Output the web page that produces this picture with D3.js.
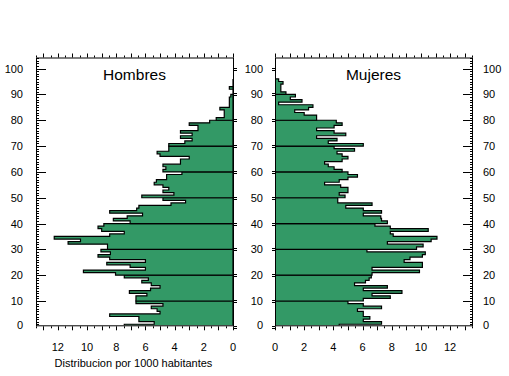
<!DOCTYPE html>
<html>
<head>
<meta charset="utf-8">
<script src="https://cdn.jsdelivr.net/npm/d3@7"></script>
<style>
body { margin: 0; background: #fff; }
text { font-family: Arial, "Liberation Sans", sans-serif; fill: #000; }
</style>
</head>
<body>
<div id="chart"></div>
<script>
var width = 509, height = 376;

// rate per 1000 inhabitants, by single year of age (index = age)
var hombres = [7.45, 5.4, 6.45, 6.45, 8.45, 5.0, 5.2, 5.6, 4.8, 6.65,
    6.65, 6.65, 5.9, 7.1, 5.65, 5.0, 5.6, 6.25, 5.8, 7.45,
    8.05, 10.25, 6.0, 7.05, 8.65, 6.0, 8.45, 9.25, 8.4, 9.05,
    8.6, 8.6, 11.3, 10.45, 12.25, 8.45, 7.45, 9.0, 9.25, 8.85,
    7.05, 8.2, 7.25, 6.2, 8.45, 6.6, 6.45, 4.25, 3.25, 4.8,
    6.25, 4.05, 4.8, 4.4, 4.8, 5.4, 5.25, 4.55, 4.55, 3.5,
    4.8, 4.6, 4.8, 3.6, 3.6, 3.0, 5.0, 5.2, 4.4, 4.4,
    4.4, 3.3, 2.8, 3.6, 2.8, 3.6, 2.4, 2.4, 3.0, 1.6,
    1.15, 0.6, 0.6, 0.6, 0.9, 0.25, 0.25, 0.25, 0.25, 0.15,
    0, 0, 0.25, 0, 0, 0];
var mujeres = [4.4, 7.3, 6.05, 6.5, 6.05, 6.05, 5.65, 7.3, 6.05, 5.0,
    6.05, 7.9, 6.65, 8.7, 6.05, 7.7, 5.45, 6.2, 6.45, 6.6,
    6.65, 9.9, 6.65, 10.1, 10.1, 8.85, 9.25, 10.1, 10.3, 6.3,
    9.7, 10.15, 7.7, 10.7, 11.1, 8.1, 7.9, 10.5, 7.9, 6.85,
    7.7, 7.3, 7.25, 6.05, 7.3, 6.05, 4.85, 6.65, 4.3, 4.3,
    4.8, 4.4, 5.0, 5.0, 4.5, 3.4, 4.4, 5.0, 5.65, 5.0,
    4.6, 4.05, 3.65, 3.4, 4.6, 5.0, 4.6, 4.25, 5.45, 4.05,
    6.05, 3.65, 4.25, 2.85, 4.85, 4.05, 2.85, 4.05, 4.6, 4.2,
    2.85, 2.85, 2.0, 1.35, 2.3, 2.6, 0.25, 1.85, 1.05, 1.4,
    0.75, 0.4, 0.4, 0.4, 0.55, 0.25];
var yTicks = [0, 10, 20, 30, 40, 50, 60, 70, 80, 90, 100];
var xTicks = [0, 2, 4, 6, 8, 10, 12];
var titles = ["Hombres", "Mujeres"];
var xTitle = "Distribucion por 1000 habitantes";

var svg = d3.select('#chart').append('svg')
    .attr('width', width)
    .attr('height', height)
    .style('display', 'block');

var y = d3.scaleLinear().domain([0.6, 104.3]).range([325.3, 57.5]);
var xLeft = d3.scaleLinear().domain([0, 13.5]).range([233, 36]);
var xRight = d3.scaleLinear().domain([0, 13.5]).range([275, 472]);

var yMinor = d3.range(1, 105).filter(function(v) { return v % 10 != 0; });
var yMajor = yTicks.filter(function(v) { return v > 0; });
var xSmall = d3.range(0, 13.51, 0.5);

// one step outline per decade of age
function decadePath(values, x, d) {
    var p = d3.path(),
        lo = d * 10,
        hi = Math.min(lo + 10, values.length);
    p.moveTo(x(0), y(lo));
    for (var a = lo; a < hi; a++) {
        p.lineTo(x(values[a]), y(a));
        p.lineTo(x(values[a]), y(a + 1));
    }
    p.lineTo(x(0), y(hi));
    p.closePath();
    return p.toString();
}

function panel(id, values, x, title) {
    var g = svg.append('g');
    var x0 = d3.min(x.range()), x1 = d3.max(x.range());
    var yTop = y.range()[1], yBot = y.range()[0];

    svg.append('clipPath').attr('id', 'clip' + id)
        .append('rect')
        .attr('x', x0).attr('y', yTop)
        .attr('width', x1 - x0).attr('height', yBot - yTop);

    g.append('g').attr('clip-path', 'url(#clip' + id + ')')
        .selectAll('path')
        .data(d3.range(Math.ceil(values.length / 10)))
        .enter().append('path')
        .attr('d', function(d) { return decadePath(values, x, d); })
        .attr('fill', '#339966')
        .attr('stroke', '#000')
        .attr('stroke-width', 1.2)
        .attr('stroke-linejoin', 'miter');

    g.append('rect')
        .attr('x', x0 + 0.5).attr('y', yTop + 0.5)
        .attr('width', x1 - x0).attr('height', yBot - yTop)
        .attr('fill', 'none').attr('stroke', '#000').attr('stroke-width', 1);

    // top and bottom ticks
    g.selectAll('.tt').data(xSmall).enter().append('line')
        .attr('x1', function(d) { return Math.round(x(d)) + 0.5; })
        .attr('x2', function(d) { return Math.round(x(d)) + 0.5; })
        .attr('y1', yTop)
        .attr('y2', function(d) { return yTop - (d % 1 == 0 ? 4 : 2); })
        .attr('stroke', '#000');
    g.selectAll('.bt').data(xSmall).enter().append('line')
        .attr('x1', function(d) { return Math.round(x(d)) + 0.5; })
        .attr('x2', function(d) { return Math.round(x(d)) + 0.5; })
        .attr('y1', yBot + 1)
        .attr('y2', function(d) { return yBot + 1 + (d % 1 == 0 ? 4 : 2); })
        .attr('stroke', '#000');

    g.selectAll('.xl').data(xTicks).enter().append('text')
        .attr('x', function(d) { return x(d); })
        .attr('y', 351)
        .attr('text-anchor', 'middle')
        .style('font-size', '11px')
        .text(function(d) { return d; });

    g.append('text')
        .attr('x', (x0 + x1) / 2)
        .attr('y', 80)
        .attr('text-anchor', 'middle')
        .style('font-size', '15.5px')
        .text(title);
    return g;
}

var gl = panel('L', hombres, xLeft, titles[0]);
var gr = panel('R', mujeres, xRight, titles[1]);

// outer axes: ticks pointing inward
function outerTicks(g, xa, dir) {
    g.selectAll('.ym').data(yMinor).enter().append('line')
        .attr('x1', xa).attr('x2', xa + dir * 3)
        .attr('y1', function(d) { return Math.round(y(d)) + 0.5; })
        .attr('y2', function(d) { return Math.round(y(d)) + 0.5; })
        .attr('stroke', '#000');
    g.selectAll('.yM').data(yMajor).enter().append('line')
        .attr('x1', xa).attr('x2', xa + dir * 10)
        .attr('y1', function(d) { return Math.round(y(d)) + 0.5; })
        .attr('y2', function(d) { return Math.round(y(d)) + 0.5; })
        .attr('stroke', '#000');
}
outerTicks(gl, 36, 1);
outerTicks(gr, 473, -1);

// inner axes: short double marks pointing outward
function innerTicks(g, xa, dir) {
    [-1, 1].forEach(function(o) {
        g.selectAll('.ym' + o).data(yTicks).enter().append('line')
            .attr('x1', xa).attr('x2', xa + dir * 3)
            .attr('y1', function(d) { return Math.round(y(d)) + o + 0.5; })
            .attr('y2', function(d) { return Math.round(y(d)) + o + 0.5; })
            .attr('stroke', '#000');
    });
}
innerTicks(gl, 234, 1);
innerTicks(gr, 275, -1);

function yLabels(xp, anchor) {
    svg.append('g').selectAll('text').data(yTicks).enter().append('text')
        .attr('x', xp)
        .attr('y', function(d) { return Math.min(y(d), 325) + 4; })
        .attr('text-anchor', anchor)
        .style('font-size', '11px')
        .text(function(d) { return d; });
}
yLabels(23, 'end');
yLabels(263, 'end');
yLabels(483, 'start');

svg.append('text')
    .attr('x', 133.5)
    .attr('y', 367)
    .attr('text-anchor', 'middle')
    .style('font-size', '11px')
    .text(xTitle);
</script>
</body>
</html>
